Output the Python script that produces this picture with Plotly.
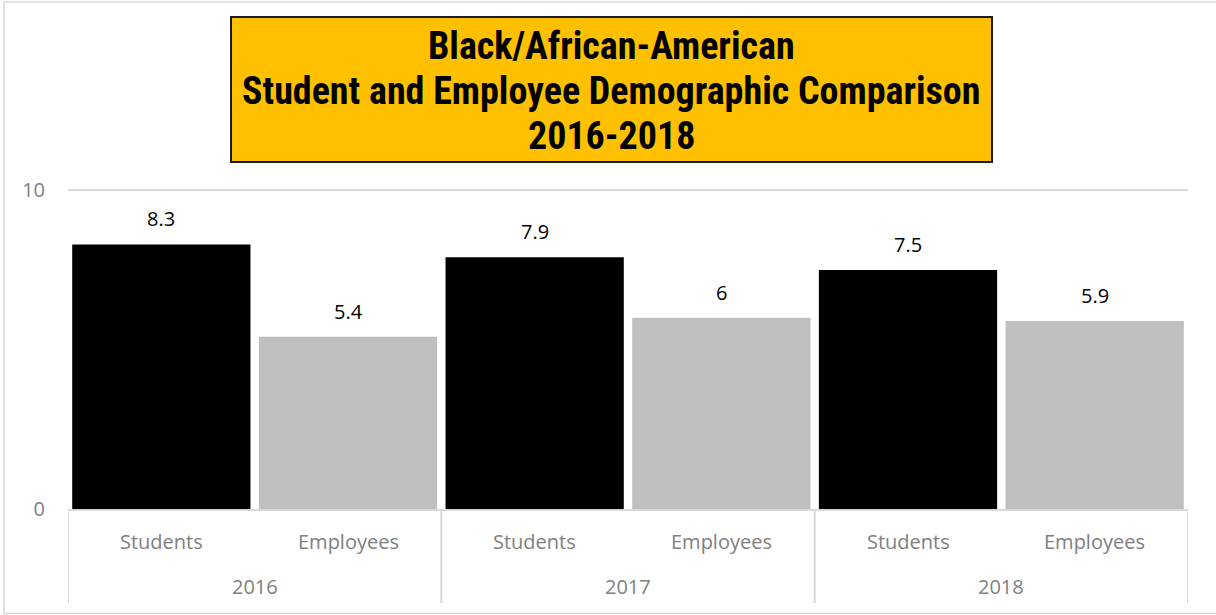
import plotly.graph_objects as go

# Category structure and values
years = ["2016", "2016", "2017", "2017", "2018", "2018"]
groups = ["Students", "Employees", "Students", "Employees", "Students", "Employees"]
year_names = ["2016", "2017", "2018"]
values = [8.3, 5.4, 7.9, 6, 7.5, 5.9]
bar_colors = ["#000000", "#BFBFBF", "#000000", "#BFBFBF", "#000000", "#BFBFBF"]
value_labels = ["8.3", "5.4", "7.9", "6", "7.5", "5.9"]

title_lines = [
    "Black/African-American",
    "Student and Employee Demographic Comparison",
    "2016-2018",
]

W, H = 1216, 615
L, R, T, B = 68, 28, 187, 106
plot_w = W - L - R
plot_h = H - T - B
Y_TOP = 10.1

GRID = "#D9D9D9"
LABEL_GREY = "#808080"
BODY_FONT = "Open Sans, Liberation Sans, sans-serif"
TITLE_FONT = "Roboto Condensed, DejaVu Sans Condensed, DejaVu Sans, sans-serif"


def px_x(px):
    return (px - L) / plot_w


def px_y(py):
    return ((H - B) - py) / plot_h


positions = list(range(len(values)))

fig = go.Figure(
    go.Bar(
        x=positions,
        y=values,
        marker=dict(color=bar_colors, line=dict(width=0)),
        hoverinfo="skip",
    )
)

annotations = []

# value labels above each bar
for i, (v, lab) in enumerate(zip(values, value_labels)):
    annotations.append(dict(
        x=i, y=v, xref="x", yref="y", text=lab, showarrow=False,
        xanchor="center", yanchor="bottom", yshift=10,
        font=dict(family=BODY_FONT, size=20, color="#000000"),
    ))

# inner category labels
for i, g in enumerate(groups):
    annotations.append(dict(
        x=i, y=0, xref="x", yref="paper", text=g, showarrow=False,
        xanchor="center", yanchor="middle", yshift=-32,
        font=dict(family=BODY_FONT, size=20, color=LABEL_GREY),
    ))

# outer year labels, centred under each pair of bars
for k, yr in enumerate(year_names):
    annotations.append(dict(
        x=2 * k + 0.5, y=0, xref="x", yref="paper", text=yr, showarrow=False,
        xanchor="center", yanchor="middle", yshift=-77,
        font=dict(family=BODY_FONT, size=20, color=LABEL_GREY),
    ))

# title, one line per annotation inside the yellow box
for line, cy in zip(title_lines, [46, 91, 136]):
    annotations.append(dict(
        x=px_x(611), y=px_y(cy), xref="paper", yref="paper",
        text='<span style="font-stretch:condensed">' + line + "</span>",
        showarrow=False, xanchor="center", yanchor="middle",
        font=dict(family=TITLE_FONT, size=38, color="#000000", weight="bold"),
    ))

shapes = [
    # outer chart border
    dict(type="rect", xref="paper", yref="paper",
         x0=px_x(4), x1=px_x(W + 4), y0=px_y(613.5), y1=px_y(2),
         line=dict(color=GRID, width=1.5), layer="below"),
    # title box
    dict(type="rect", xref="paper", yref="paper",
         x0=px_x(231), x1=px_x(992), y0=px_y(162), y1=px_y(17),
         fillcolor="#FFC000", line=dict(color="#1A1A1A", width=2), layer="below"),
]

# group dividers below the axis
for xb in [-0.5, 1.5, 3.5, 5.5]:
    shapes.append(dict(
        type="line", xref="x", yref="paper",
        x0=xb, x1=xb, y0=0, y1=px_y(603),
        line=dict(color=GRID, width=2),
    ))

fig.update_layout(
    width=W,
    height=H,
    margin=dict(l=L, r=R, t=T, b=B),
    paper_bgcolor="#FFFFFF",
    plot_bgcolor="#FFFFFF",
    bargap=0.045,
    showlegend=False,
    font=dict(family=BODY_FONT, color=LABEL_GREY),
    xaxis=dict(
        range=[-0.5, 5.5],
        showticklabels=False,
        showgrid=False,
        zeroline=False,
        showline=True,
        linecolor=GRID,
        linewidth=2,
        ticks="",
    ),
    yaxis=dict(
        range=[0, Y_TOP],
        tickvals=[0, 10],
        showgrid=True,
        gridcolor=GRID,
        gridwidth=2,
        zeroline=False,
        showline=False,
        ticks="",
        ticklabelstandoff=22,
        tickfont=dict(size=20, color=LABEL_GREY),
    ),
    annotations=annotations,
    shapes=shapes,
)

fig.write_html("out.html")
